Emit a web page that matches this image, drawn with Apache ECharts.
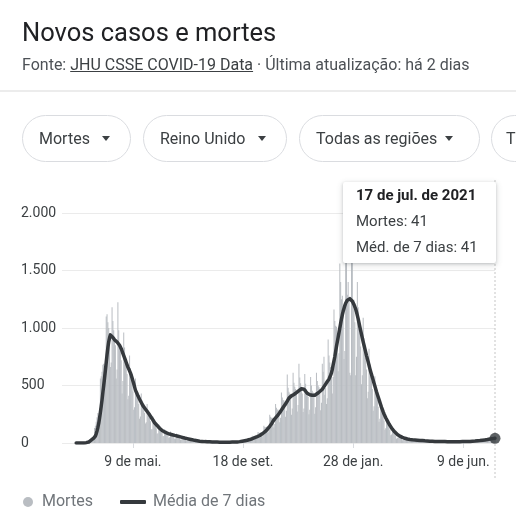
<!DOCTYPE html>
<html><head><meta charset="utf-8">
<script src="https://cdn.jsdelivr.net/npm/echarts@6/dist/echarts.min.js"></script>
<style>
html,body{margin:0;padding:0;background:#fff;width:516px;height:520px;overflow:hidden;font-family:Roboto,Arial,sans-serif;}
#chart{position:absolute;left:0;top:0;width:516px;height:520px;}
#title{position:absolute;left:22px;top:17px;font-size:25.5px;line-height:30px;color:#202124;white-space:nowrap;}
#sub{position:absolute;left:22px;top:55px;font-size:16px;line-height:19px;color:#4d5156;white-space:nowrap;}
#sub u{color:#3c4043;}
#sep{position:absolute;left:0;top:90px;width:516px;height:2px;background:#ececec;}
.chip{position:absolute;top:115px;height:47px;box-sizing:border-box;border:1px solid #dadce0;border-radius:24px;font-size:16px;line-height:45px;color:#3c4043;white-space:nowrap;overflow:hidden;}
.chip .t{position:absolute;top:0;}
.chip i{position:absolute;top:20px;width:0;height:0;border-left:4.5px solid transparent;border-right:4.5px solid transparent;border-top:5px solid #3c4043;}
#tip{position:absolute;left:343px;top:182px;width:153px;height:81px;background:#fff;box-shadow:0 1px 3px rgba(60,64,67,.25),0 2px 6px 1px rgba(60,64,67,.12);border-radius:2px;font-size:15px;line-height:26px;color:#3c4043;box-sizing:border-box;padding-left:13px;white-space:nowrap;}
#tip b{color:#202124;}
</style></head>
<body>
<div id="chart"></div>
<div id="title">Novos casos e mortes</div>
<div id="sub">Fonte: <u>JHU CSSE COVID-19 Data</u> · Última atualização: há 2 dias</div>
<div id="sep"></div>
<div class="chip" style="left:22px;width:109px"><span class="t" style="left:16px">Mortes</span><i style="left:79px"></i></div>
<div class="chip" style="left:143px;width:144px"><span class="t" style="left:16px">Reino Unido</span><i style="left:114px"></i></div>
<div class="chip" style="left:299px;width:181px"><span class="t" style="left:16px">Todas as regiões</span><i style="left:145px"></i></div>
<div class="chip" style="left:491px;width:120px"><span class="t" style="left:14px">T</span></div>
<div id="tip"><b id="tipDate"></b><br><span id="tipD"></span><br><span id="tipA"></span></div>
<script>
// ---- data (daily values from 2020-03-02 to 2021-07-17) ----
const firstDataDate = '2020-03-02';
const axisStartDate = '2020-02-14';
const deaths = [
0,0,0,1,0,1,0,
1,2,2,3,5,6,5,
14,22,28,35,42,48,45,
65,130,150,185,225,260,240,
300,560,580,620,680,690,520,
720,1100,1120,1050,1000,920,660,
700,1180,1060,980,920,850,560,
640,1225,980,860,800,720,430,
540,960,830,740,690,600,380,
410,760,650,580,520,450,290,
310,560,470,420,390,340,210,
230,430,370,330,300,260,170,
180,340,290,250,220,190,120,
120,230,200,170,150,128,80,
85,160,140,120,108,90,58,
60,120,100,92,84,70,45,
50,100,85,75,68,58,36,
40,82,70,60,55,45,28,
30,62,52,45,40,34,20,
22,45,38,32,28,22,14,
15,30,26,21,18,15,9,
10,20,18,15,13,11,7,
8,15,13,11,9,8,5,
6,13,12,10,8,7,4,
5,12,10,9,7,7,3,
5,11,10,8,8,6,3,
4,12,10,9,8,7,4,
5,14,13,12,12,11,7,
10,27,24,22,22,20,13,
17,40,37,36,36,34,24,
29,64,60,58,60,55,38,
45,96,90,88,90,85,56,
72,150,140,138,142,138,92,
118,245,228,220,220,207,135,
165,340,306,292,290,272,180,
220,440,396,374,370,347,228,
280,595,480,445,430,390,245,
300,610,525,490,470,430,275,
330,690,570,520,490,430,270,
300,600,515,470,440,400,250,
290,575,500,455,440,400,255,
310,610,540,500,485,445,285,
350,690,620,750,420,480,340,
390,900,760,700,660,640,430,
575,1160,1060,1020,1010,950,625,
780,1560,1400,1250,1280,1130,730,
800,1610,1820,1290,1400,1245,610,
590,1630,1725,1240,1245,1050,590,
750,1400,1180,1040,960,840,510,
590,1090,910,800,740,640,390,
445,820,685,600,545,470,280,
320,580,480,415,375,315,185,
210,370,300,260,230,195,115,
128,228,184,156,137,114,67,
74,131,104,88,78,66,38,
43,77,62,54,48,41,25,
28,51,42,36,34,29,18,
21,39,34,30,27,24,15,
17,32,28,24,23,20,13,
14,28,23,21,19,17,10,
12,23,20,18,17,15,9,
10,19,17,15,14,12,8,
9,18,15,14,13,11,7,
8,17,14,13,12,10,6,
8,16,14,12,12,10,6,
8,16,14,12,12,10,7,
9,18,16,14,14,13,8,
10,21,18,18,17,16,10,
13,25,23,22,21,20,13,
17,33,30,29,28,27,17,
22,44,40,39,38,35,23,
28,55,49,46,45,41
];
const avg7 = [
0,0,0,0,0,0,0,
0,1,1,1,2,3,4,
6,8,12,17,25,30,36,
42,50,60,80,105,135,170,
215,265,320,375,440,500,565,
630,700,770,830,880,915,940,
938,930,918,905,897,890,885,
878,870,862,850,840,820,800,
780,760,740,720,700,680,660,
645,628,610,590,565,540,515,
488,460,445,428,410,395,380,
365,352,338,325,315,305,295,
285,275,265,255,245,233,222,
210,200,188,176,168,160,152,
143,135,128,120,113,108,104,
100,96,92,89,86,83,80,
78,76,74,72,70,68,66,
65,63,61,59,57,55,53,
51,49,47,45,43,42,40,
38,36,35,33,31,30,28,
26,25,23,22,21,20,18,
17,16,15,15,14,13,13,
12,12,11,11,10,10,10,
9,9,9,9,8,8,8,
8,8,7,7,7,7,7,
7,7,7,7,7,7,7,
7,7,7,7,8,8,8,
8,8,8,9,9,10,11,
12,13,14,16,17,19,20,
21,22,24,26,28,30,32,
35,37,40,43,46,49,52,
55,58,62,65,70,75,80,
85,90,96,103,109,118,126,
135,145,155,165,178,190,200,
210,218,225,235,245,255,265,
275,287,298,308,320,330,340,
352,365,380,390,398,405,410,
414,418,422,428,433,438,445,
450,456,462,468,472,476,475,
468,458,450,440,432,428,424,
420,418,416,415,414,414,416,
420,424,430,436,442,448,455,
460,468,478,490,500,512,525,
535,545,555,570,590,610,640,
680,715,750,795,840,880,920,
960,1000,1040,1080,1115,1145,1170,
1195,1215,1230,1242,1250,1255,1255,
1250,1245,1232,1220,1203,1185,1165,
1140,1110,1080,1045,1010,978,945,
912,880,850,820,790,760,733,
705,676,647,620,595,570,545,
520,495,470,445,422,400,378,
355,332,310,290,270,252,235,
220,205,192,178,165,153,142,
130,120,112,103,95,87,80,
74,69,64,60,56,52,49,
46,43,41,39,37,35,33,
32,31,30,29,28,28,27,
26,25,25,24,23,23,22,
22,21,21,20,20,19,19,
18,18,17,17,16,16,16,
15,15,15,14,14,14,13,
13,13,13,12,12,12,12,
12,12,11,11,11,11,11,
11,11,11,11,11,11,11,
11,11,11,11,11,11,12,
12,12,12,12,13,13,13,
13,14,14,14,15,15,16,
16,17,17,18,18,19,20,
20,21,22,23,24,25,26,
27,28,29,30,32,33,35,
36,37,38,39,40,41
];
const tickDates = ['2020-05-09','2020-09-18','2021-01-28','2021-06-09'];
const tickLabels = ['9 de mai.','18 de set.','28 de jan.','9 de jun.'];
const yTicks = [0,500,1000,1500,2000];
const lastDateLabel = '17 de jul. de 2021';
const seriesNames = ['Mortes','Média de 7 dias'];

// ---- build category axis (one category per day) ----
const DAY = 86400000;
const t0 = Date.parse(axisStartDate + 'T00:00:00Z');
const lead = Math.round((Date.parse(firstDataDate + 'T00:00:00Z') - t0) / DAY);
const cats = [];
for (let i = 0; i < lead + deaths.length; i++) cats.push(new Date(t0 + i * DAY).toISOString().slice(0, 10));
const pad = Array(lead).fill('-');
const barData = pad.concat(deaths);
const lineData = pad.concat(avg7);
const lastIdx = cats.length - 1;
const tickMap = {};
tickDates.forEach((d, i) => tickMap[d] = tickLabels[i]);
const fmtNum = v => String(v).replace(/\B(?=(\d{3})+(?!\d))/g, '.');

document.getElementById('tipDate').textContent = lastDateLabel;
document.getElementById('tipD').textContent = seriesNames[0] + ': ' + deaths[deaths.length - 1];
document.getElementById('tipA').textContent = 'Méd. de 7 dias: ' + avg7[avg7.length - 1];

const chart = echarts.init(document.getElementById('chart'), null, {renderer: 'canvas'});
const font = 'Roboto, Arial, sans-serif';
chart.setOption({
  animation: false,
  textStyle: {fontFamily: font},
  grid: {left: 62, right: 21, top: 213, bottom: 77, containLabel: false},
  xAxis: {
    type: 'category', data: cats, boundaryGap: false,
    axisLine: {show: false},
    axisTick: {show: true, length: 5, interval: (i, v) => tickMap[v] !== undefined, lineStyle: {color: '#dadce0'}},
    axisLabel: {interval: (i, v) => tickMap[v] !== undefined, formatter: v => tickMap[v] || '', color: '#3c4043', fontSize: 14, margin: 12, fontFamily: font},
    splitLine: {show: false}
  },
  yAxis: {
    type: 'value', min: yTicks[0], max: yTicks[yTicks.length - 1], interval: yTicks[1] - yTicks[0],
    axisLine: {show: false}, axisTick: {show: false},
    axisLabel: {align: 'left', margin: 41, color: '#3c4043', fontSize: 14, formatter: fmtNum, fontFamily: font},
    splitLine: {lineStyle: {color: '#ebebeb', width: 1}}
  },
  legend: [
    {data: [{name: seriesNames[0], icon: 'circle'}], left: 18, top: 489, itemWidth: 10, itemHeight: 10,
     textStyle: {color: '#70757a', fontSize: 16, fontFamily: font, padding: [0, 0, 0, 4]}, selectedMode: false},
    {data: [{name: seriesNames[1], icon: 'roundRect'}], left: 115, top: 489, itemWidth: 26, itemHeight: 4,
     textStyle: {color: '#70757a', fontSize: 16, fontFamily: font, padding: [0, 0, 0, 2]}, selectedMode: false}
  ],
  series: [
    {name: seriesNames[0], type: 'bar', data: barData, barCategoryGap: '12%', itemStyle: {color: '#b9bdc2'}, silent: true},
    {name: seriesNames[1], type: 'line', data: lineData, showSymbol: false, symbol: 'none',
     lineStyle: {color: '#35393d', width: 3.5, join: 'round', cap: 'round'}, itemStyle: {color: '#35393d'}, z: 3, silent: true},
    {name: 'end', type: 'scatter', data: [[cats[lastIdx], avg7[avg7.length - 1]]], symbolSize: 11,
     itemStyle: {color: '#35393d'}, z: 4, silent: true}
  ]
});
const px = chart.convertToPixel({xAxisIndex: 0}, cats[lastIdx]);
chart.setOption({
  graphic: [{type: 'line', shape: {x1: px, y1: 180, x2: px, y2: 480}, style: {stroke: '#c6c6c6', lineWidth: 1, lineDash: [2, 2]}, z: 0}]
});
</script>
</body></html>
